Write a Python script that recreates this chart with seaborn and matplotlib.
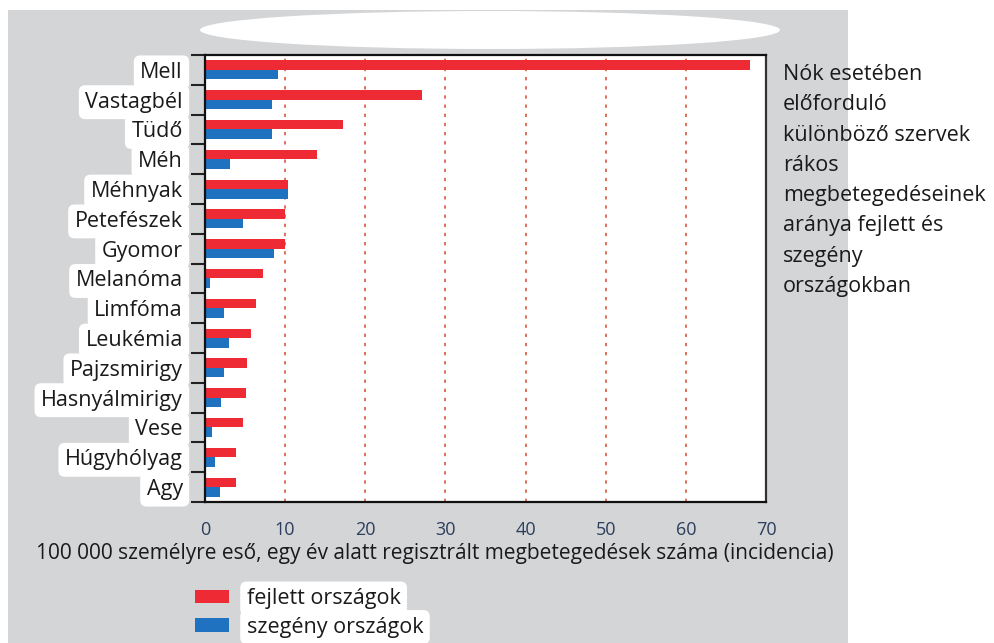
"""
Cancer incidence among women, developed vs. poor countries (horizontal grouped bars).
"""
import numpy as np
import pandas as pd
import matplotlib
matplotlib.use("Agg")
import matplotlib.pyplot as plt
from matplotlib.patches import Rectangle, Ellipse
import seaborn as sns

# data
organs = ["Mell", "Vastagbél", "Tüdő", "Méh", "Méhnyak", "Petefészek", "Gyomor",
          "Melanóma", "Limfóma", "Leukémia", "Pajzsmirigy", "Hasnyálmirigy",
          "Vese", "Húgyhólyag", "Agy"]
developed = [68.0, 27.1, 17.2, 14.0, 10.4, 10.0, 10.0, 7.2, 6.4, 5.7, 5.3, 5.1, 4.7, 3.9, 3.9]
poor = [9.1, 8.4, 8.4, 3.1, 10.4, 4.7, 8.6, 0.6, 2.4, 3.0, 2.4, 2.0, 0.9, 1.2, 1.9]
groups = ["fejlett országok", "szegény országok"]
x_ticks = [0, 10, 20, 30, 40, 50, 60, 70]

xlabel = "100 000 személyre eső, egy év alatt regisztrált megbetegedések száma (incidencia)"
side_note = ("Nók esetében\nelőforduló\nkülönböző szervek\nrákos\n"
             "megbetegedéseinek\naránya fejlett és\nszegény\nországokban")

df = pd.DataFrame({
    "organ": organs * 2,
    "value": developed + poor,
    "group": [groups[0]] * len(organs) + [groups[1]] * len(organs),
})

sns.set_theme(style="white")
plt.rcParams["font.family"] = ["Open Sans", "DejaVu Sans"]

fig = plt.figure(figsize=(9.94, 6.43), dpi=100)
fig.patch.set_facecolor("white")

# gray backdrop and the white smudge of the original scan
fig.patches.append(Rectangle((8 / 994, 0), 840 / 994, 1 - 10 / 643,
                             transform=fig.transFigure, fc="#d4d5d7", ec="none", zorder=-10))
fig.patches.append(Ellipse((490 / 994, 1 - 30 / 643), 580 / 994, 38 / 643,
                           transform=fig.transFigure, fc="white", ec="none", zorder=-9))

ax = fig.add_axes([205 / 994, 1 - 502 / 643, 561 / 994, 447 / 643])
ax.set_facecolor("white")

sns.barplot(data=df, y="organ", x="value", hue="group", orient="h",
            palette=["#ee2a35", "#1f72c0"], width=0.64, saturation=1,
            linewidth=0, order=organs, hue_order=groups, ax=ax)

ax.set_xlim(0, 70)
ax.set_ylim(len(organs) - 0.5, -0.5)
ax.set_xticks(x_ticks)
ax.set_xticklabels([str(t) for t in x_ticks], fontsize=13, color="#2c3e5c")
ax.tick_params(axis="x", direction="out", length=9, width=1.5, color="#222222", pad=5)

# category labels sit between tick marks placed on the boundaries
ax.set_yticks(np.arange(len(organs)))
ax.set_yticklabels(organs, fontsize=15.5, color="#1a1a1a")
ax.set_yticks(np.arange(len(organs) + 1) - 0.5, minor=True)
ax.tick_params(axis="y", which="major", length=0, pad=16)
ax.tick_params(axis="y", which="minor", direction="out", length=10, width=1.5,
               color="#222222", left=True)
for lab in ax.get_yticklabels():
    lab.set_bbox(dict(boxstyle="round,pad=0.3", fc="white", ec="none"))

ax.grid(axis="x", color="#d9573f", linestyle=(0, (2, 3.5)), linewidth=1.2)
ax.grid(axis="y", visible=False)
ax.set_axisbelow(True)

for side in ["left", "bottom", "top"]:
    ax.spines[side].set_color("#111111")
    ax.spines[side].set_linewidth(1.6)
ax.spines["right"].set_color("#333333")
ax.spines["right"].set_linewidth(1.6)

ax.set_ylabel("")
ax.set_xlabel(xlabel, fontsize=15, color="#1a1a1a")
ax.xaxis.set_label_coords(0.41, -0.092)

sns.move_legend(ax, "upper left", bbox_to_anchor=(195 / 994, 1 - 588 / 643),
                bbox_transform=fig.transFigure, frameon=False, title=None,
                fontsize=15.5, handlelength=1.6, handleheight=0.6,
                handletextpad=0.8, labelspacing=0.35, borderpad=0, borderaxespad=0)
for t in ax.get_legend().get_texts():
    t.set_color("#1a1a1a")
    t.set_bbox(dict(boxstyle="round,pad=0.3", fc="white", ec="none"))

fig.text(783 / 994, 1 - 64 / 643, side_note, ha="left", va="top",
         fontsize=15.5, color="#1a1a1a", linespacing=1.58)

fig.savefig("out.png", dpi=100)
